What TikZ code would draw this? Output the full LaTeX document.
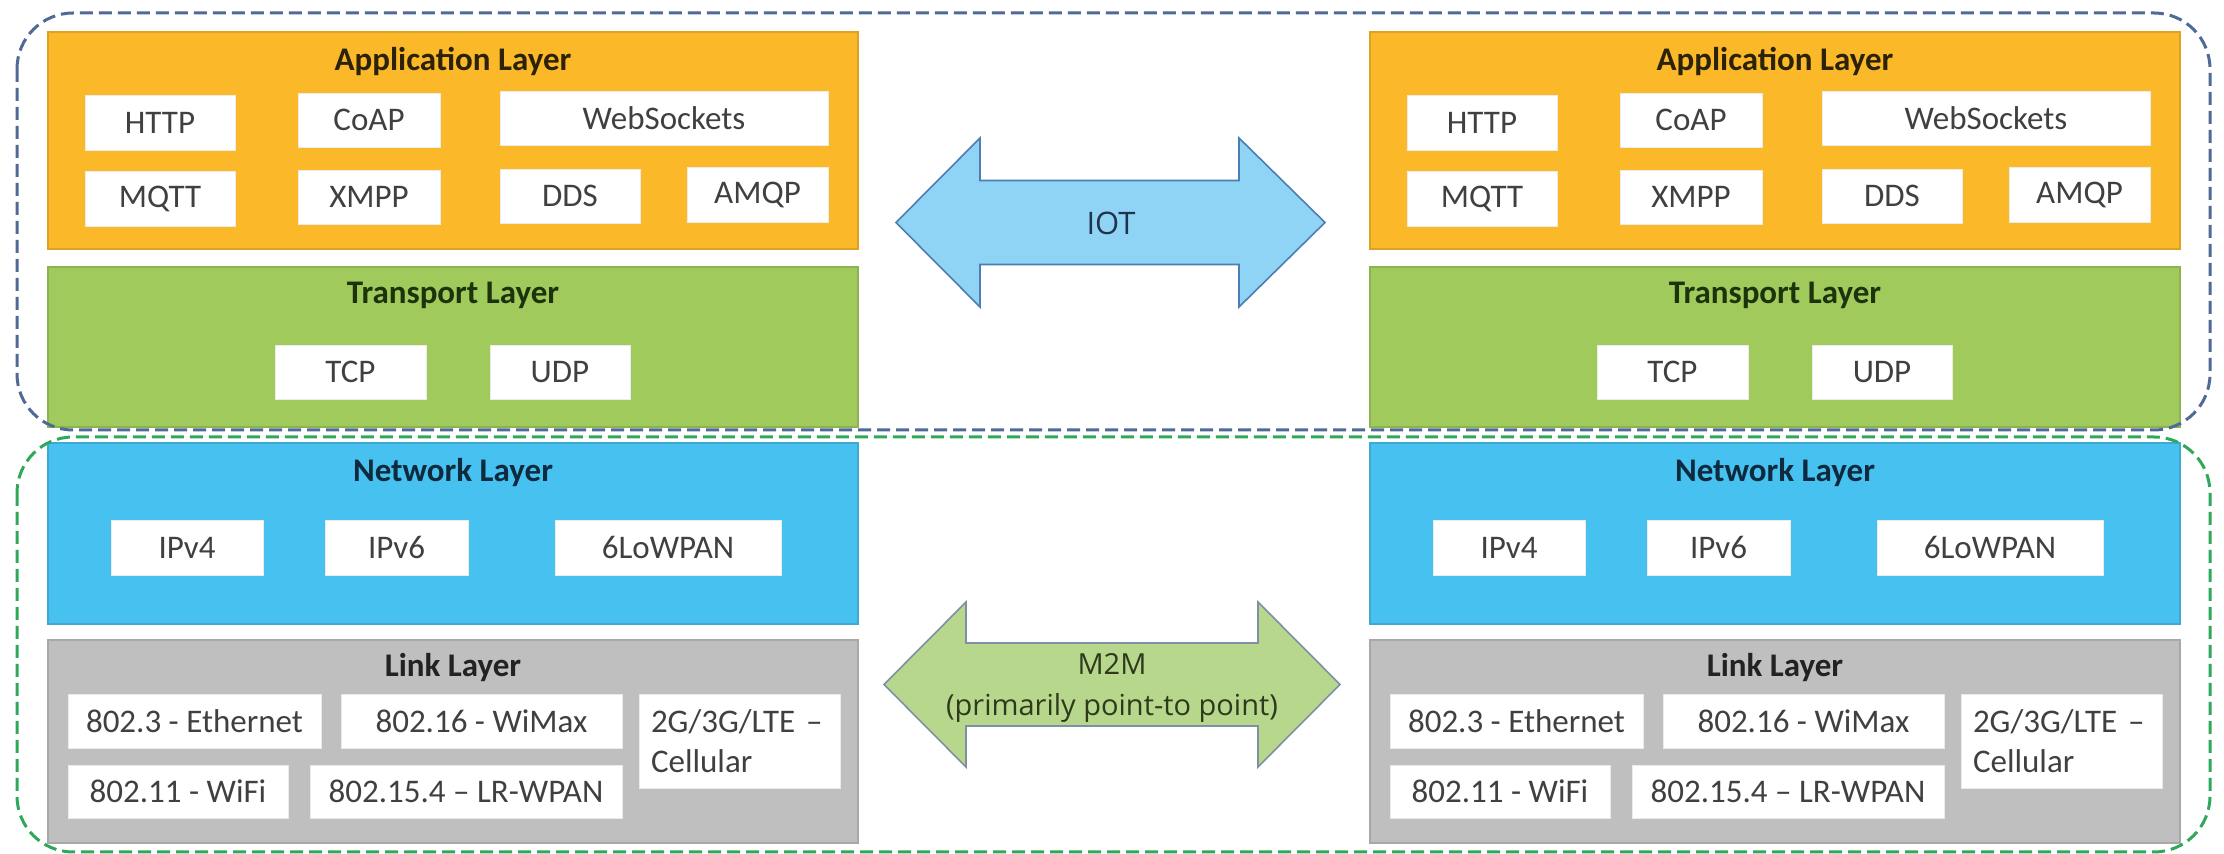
\documentclass[tikz,border=0pt]{standalone}
\usepackage{fontspec}
\setmainfont{Carlito}
\newfontfamily\osans{Open Sans}
\definecolor{appc}{HTML}{FBB829}
\definecolor{trc}{HTML}{A0CA5C}
\definecolor{netc}{HTML}{47C1EF}
\definecolor{linkc}{HTML}{BFBFBF}
\definecolor{bdash}{HTML}{4F6B95}
\definecolor{gdash}{HTML}{2FA85A}
\definecolor{iotfill}{HTML}{8FD4F5}
\definecolor{iotline}{HTML}{4C7DB3}
\definecolor{mfill}{HTML}{B7D78C}
\definecolor{mline}{HTML}{7D90A5}
\definecolor{btext}{HTML}{404040}
\definecolor{apptitle}{HTML}{2B2208}
\definecolor{trtitle}{HTML}{1C330C}
\definecolor{nettitle}{HTML}{0E2A3E}
\definecolor{linktitle}{HTML}{222222}
\definecolor{iottext}{HTML}{1F3350}
\definecolor{mtext}{HTML}{2E3A1C}
\tikzset{
  layer/.style={draw=#1!88!black, line width=0.6pt, fill=#1},
  wbox/.style={fill=white, draw=white!92!black, line width=0.4pt, inner sep=0pt,
    text=btext, font=\fontsize{16.5}{20}\selectfont},
  ltitle/.style={font=\bfseries\fontsize{16.5}{20}\selectfont, inner sep=0pt},
  grp/.style={draw=#1, dash pattern=on 6.5pt off 3pt, line width=1.5pt, rounded corners=28pt},
  bigarrow/.style={line width=0.8pt, line join=miter},
  alabel/.style={font=\osans\fontsize{14.5}{20.5}\selectfont, inner sep=0pt, align=center},
}
\newcommand\wb[6]{\node[wbox, minimum width={(#4-#2)*0.5pt}, minimum height={(#5-#3)*0.5pt}] (#1) at ({(#2+#4)/2+\o},{(#3+#5)/2}) {#6};}
\begin{document}
\begin{tikzpicture}[x=0.5pt,y=-0.5pt]
\useasboundingbox (0,0) rectangle (2224,854);
\fill[white] (0,0) rectangle (2224,854);
\foreach \s/\o in {L/0,R/1322}{
  % layers
  \draw[layer=appc] ({48+\o},32) rectangle ({858+\o},249);
  \draw[layer=trc] ({48+\o},267) rectangle ({858+\o},427);
  \draw[layer=netc] ({48+\o},443) rectangle ({858+\o},624);
  \draw[layer=linkc] ({48+\o},640) rectangle ({858+\o},843);
  % titles
  \node[ltitle, text=apptitle] (apptitle\s) at ({453+\o},62) {Application Layer};
  \node[ltitle, text=trtitle] (trtitle\s) at ({453+\o},295) {Transport Layer};
  \node[ltitle, text=nettitle] (nettitle\s) at ({453+\o},473) {Network Layer};
  \node[ltitle, text=linktitle] (linktitle\s) at ({453+\o},668) {Link Layer};
  % application
  \wb{http\s}{85}{95}{235}{150}{HTTP}
  \wb{coap\s}{298}{93}{440}{147}{CoAP}
  \wb{ws\s}{500}{91}{828}{145}{WebSockets}
  \wb{mqtt\s}{85}{171}{235}{226}{MQTT}
  \wb{xmpp\s}{298}{170}{440}{224}{XMPP}
  \wb{dds\s}{500}{169}{640}{223}{DDS}
  \wb{amqp\s}{687}{167}{828}{222}{AMQP}
  % transport
  \wb{tcp\s}{275}{345}{426}{399}{TCP}
  \wb{udp\s}{490}{345}{630}{399}{UDP}
  % network
  \wb{ipv4\s}{111}{520}{263}{575}{IPv4}
  \wb{ipv6\s}{325}{520}{468}{575}{IPv6}
  \wb{lowpan\s}{555}{520}{781}{575}{6LoWPAN}
  % link
  \wb{eth\s}{68}{694}{321}{748}{802.3 - Ethernet}
  \wb{wimax\s}{341}{694}{622}{748}{802.16 - WiMax}
  \wb{wifi\s}{68}{765}{288}{818}{802.11 - WiFi}
  \wb{wpan\s}{310}{765}{622}{818}{802.15.4 -- LR-WPAN}
  \node[wbox, minimum height=47pt, text width={(201-24)*0.5pt}, inner xsep=6pt, align=left]
    (cell\s) at ({739.5+\o},741) {2G/3G/LTE --\\Cellular};
}
% IOT arrow
\draw[bigarrow, fill=iotfill, draw=iotline]
  (896,222.5) -- (980,138) -- (980,180.5) -- (1239,180.5) -- (1239,138) -- (1325,222.5)
  -- (1239,307) -- (1239,264.5) -- (980,264.5) -- (980,307) -- cycle;
\node[alabel, text=iottext, font=\osans\fontsize{15.5}{20}\selectfont] (iot) at (1111,223) {IOT};
% M2M arrow
\draw[bigarrow, fill=mfill, draw=mline]
  (884,684.5) -- (966,602) -- (966,643) -- (1258,643) -- (1258,602) -- (1340,684.5)
  -- (1258,767) -- (1258,726) -- (966,726) -- (966,767) -- cycle;
\node[alabel, text=mtext] (m2m) at (1112,688) {M2M\\(primarily point-to point)};
% groups
\draw[grp=bdash] (17,13) rectangle (2210,430);
\draw[grp=gdash] (17,437) rectangle (2210,852);
\end{tikzpicture}
\end{document}
